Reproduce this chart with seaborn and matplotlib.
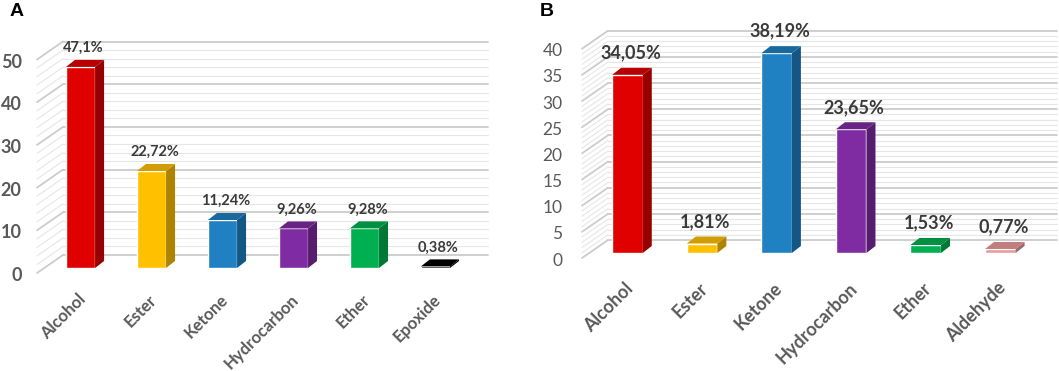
import seaborn as sns
import pandas as pd
import matplotlib.pyplot as plt
from matplotlib.patches import Polygon
from matplotlib.transforms import Affine2D

# panel A data
cats_a = ["Alcohol", "Ester", "Ketone", "Hydrocarbon", "Ether", "Epoxide"]
vals_a = [47.1, 22.72, 11.24, 9.26, 9.28, 0.38]
labels_a = ["47,1%", "22,72%", "11,24%", "9,26%", "9,28%", "0,38%"]
colors_a = ["#e00000", "#ffc000", "#1f80c2", "#7f2ba2", "#00b050", "#000000"]
ticks_a = [0, 10, 20, 30, 40, 50]

# panel B data
cats_b = ["Alcohol", "Ester", "Ketone", "Hydrocarbon", "Ether", "Aldehyde"]
vals_b = [34.05, 1.81, 38.19, 23.65, 1.53, 0.77]
labels_b = ["34,05%", "1,81%", "38,19%", "23,65%", "1,53%", "0,77%"]
colors_b = ["#e00000", "#ffc000", "#1f80c2", "#7f2ba2", "#00b050", "#eb9a9a"]
ticks_b = [0, 5, 10, 15, 20, 25, 30, 35, 40]

sns.set_theme(style="white")
plt.rcParams["font.family"] = ["Lato", "DejaVu Sans"]

W, H = 1059, 371
fig = plt.figure(figsize=(W / 100, H / 100), dpi=100)


def shade(c, f):
    r, g, b = plt.matplotlib.colors.to_rgb(c)
    return (r * f, g * f, b * f)


def panel(box, ylim, xlim, cats, vals, labels, colors, ticks, step, major,
          tfs, tweight, tpad, cfs, cpad, dfs, dlab):
    left, right, bottom, top = box
    ax = fig.add_axes([left / W, 1 - bottom / H, (right - left) / W, (bottom - top) / H])
    df = pd.DataFrame({"cat": cats, "val": vals})
    sns.barplot(data=df, x="cat", y="val", hue="cat", palette=colors, order=cats,
                saturation=1, width=0.41, legend=False, ax=ax, zorder=3)
    ax.set_xlim(*xlim)
    ax.set_ylim(0, ylim)
    # data units per pixel
    sx = (xlim[1] - xlim[0]) / (right - left)
    sy = ylim / (bottom - top)

    # back wall and side wall gridlines
    x0 = xlim[0]
    bx, by = 26 * sx, 13 * sy
    fy = 5 * sy
    v = 0
    while v <= ticks[-1]:
        is_major = v % major == 0
        col = "#cccccc" if is_major else "#e6e6e6"
        lw = 1.3 if is_major else 0.8
        ax.plot([x0 + bx, xlim[1]], [v + by, v + by], color=col, lw=lw, zorder=0, clip_on=False)
        ax.plot([x0, x0 + bx], [v - fy, v + by], color=col, lw=lw, zorder=0, clip_on=False)
        v += step

    # fake 3d: side and top faces
    dx, dy = 9 * sx, 7 * sy
    for p, c in zip(ax.patches, colors):
        x, w, h = p.get_x(), p.get_width(), p.get_height()
        side = Polygon([(x + w, 0), (x + w + dx, dy), (x + w + dx, h + dy), (x + w, h)],
                       closed=True, color=shade(c, 0.68), lw=0, zorder=3, clip_on=False)
        topf = Polygon([(x, h), (x + dx, h + dy), (x + w + dx, h + dy), (x + w, h)],
                       closed=True, color=shade(c, 0.82), lw=0, zorder=3, clip_on=False)
        ax.add_patch(side)
        ax.add_patch(topf)

    for i, (val, lab) in enumerate(zip(vals, labels)):
        ax.text(i + dx / 3, val + dlab * sy, lab, ha="center", va="center",
                fontsize=dfs, fontweight="bold", color="#3a3a3a", zorder=4)

    ax.set_yticks(ticks)
    ax.set_yticklabels([str(t) for t in ticks], fontsize=tfs, fontweight=tweight, color="#595959")
    ax.tick_params(axis="y", length=0, pad=tpad)
    for lab in ax.get_yticklabels():
        lab.set_transform(lab.get_transform() + Affine2D().translate(0, -6))

    ax.set_xticks(range(len(cats)))
    ax.set_xticklabels(cats, rotation=45, ha="right", va="top", rotation_mode="anchor",
                       fontsize=cfs, fontweight="bold", color="#595959")
    ax.tick_params(axis="x", length=0, pad=cpad)
    for lab in ax.get_xticklabels():
        lab.set_transform(lab.get_transform() + Affine2D().translate(-3, 0))
    ax.set_xlabel("")
    ax.set_ylabel("")
    sns.despine(ax=ax, left=True, bottom=True)
    ax.patch.set_alpha(0)
    return ax


panel((37, 488, 268, 41.7), 53, (-0.613, 5.74), cats_a, vals_a, labels_a, colors_a,
      ticks_a, 2, 10, 13, "bold", 11, 12, 17, 10.5, 19)
panel((582, 1057, 253, 28), 43, (-0.61, 5.76), cats_b, vals_b, labels_b, colors_b,
      ticks_b, 1, 5, 12.5, "normal", 14, 13, 19, 13, 22)

fig.text(17 / W, 1 - 12 / H, "A", fontsize=14, fontweight="bold", family="Liberation Sans",
         ha="center", va="center", color="black")
fig.text(547 / W, 1 - 12 / H, "B", fontsize=14, fontweight="bold", family="Liberation Sans",
         ha="center", va="center", color="black")

plt.savefig("out.png", dpi=100)
